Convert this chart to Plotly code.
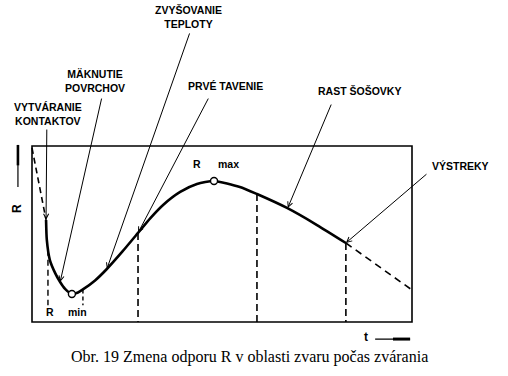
import plotly.graph_objects as go

# ---- data (t and R in box-relative units: box spans 0..100 on both axes) ----
t_dash_start = [0.0, 1.6, 3.2, 3.7]
r_dash_start = [98.9, 80.7, 61.9, 58.0]

t_curve = [3.7, 3.9, 4.7, 6.1, 7.4, 8.7, 10.5, 12.1, 13.4, 16.6, 19.7, 23.7,
           27.9, 31.1, 34.5, 39.0, 43.4, 47.9, 54.7, 59.2, 67.1, 75.0, 82.6]
r_curve = [58.0, 46.6, 35.2, 27.8, 22.7, 18.8, 15.9, 16.8, 18.5, 23.6, 30.1, 39.8,
           50.6, 58.9, 66.5, 73.9, 78.4, 80.1, 76.7, 72.7, 64.8, 55.1, 44.9]

t_dash_end = [82.6, 100.0]
r_dash_end = [44.9, 18.2]

i_min = 6
i_max = 17
i_first_melt = 12      # PRVÉ TAVENIE
i_lens = 19            # start of RAST ŠOŠOVKY
i_spatter = 22         # VÝSTREKY

phase_labels = ["VYTVÁRANIE<br>KONTAKTOV", "MÄKNUTIE<br>POVRCHOV",
                "ZVYŠOVANIE<br>TEPLOTY", "PRVÉ TAVENIE", "RAST ŠOŠOVKY", "VÝSTREKY"]
caption = "Obr. 19 Zmena odporu R v oblasti zvaru počas zvárania"

# ---- figure ----
BLACK = "black"
fig = go.Figure()

# dashed initial part
fig.add_trace(go.Scatter(x=t_dash_start, y=r_dash_start, mode="lines",
                         line=dict(color=BLACK, width=1.6, dash="6px,4px"),
                         hoverinfo="skip"))
# main curve
fig.add_trace(go.Scatter(x=t_curve, y=r_curve, mode="lines",
                         line=dict(color=BLACK, width=2.6, shape="spline", smoothing=0.6),
                         hoverinfo="skip"))
# dashed extrapolation
fig.add_trace(go.Scatter(x=t_dash_end, y=r_dash_end, mode="lines",
                         line=dict(color=BLACK, width=1.6, dash="7px,5px"),
                         hoverinfo="skip"))

# dashed vertical lines from curve to bottom
for i in [i_first_melt, i_lens, i_spatter]:
    fig.add_trace(go.Scatter(x=[t_curve[i], t_curve[i]], y=[r_curve[i], 0], mode="lines",
                             line=dict(color=BLACK, width=1.6, dash="7px,4px"),
                             hoverinfo="skip"))
# R min dashed marks
fig.add_trace(go.Scatter(x=[4.2, 4.2], y=[41, 9.5], mode="lines",
                         line=dict(color=BLACK, width=1.4, dash="6px,4px"), hoverinfo="skip"))
fig.add_trace(go.Scatter(x=[13.4, 13.4], y=[r_curve[8], 9.5], mode="lines",
                         line=dict(color=BLACK, width=1.4, dash="4px,3px"), hoverinfo="skip"))

# min / max open circles
fig.add_trace(go.Scatter(x=[t_curve[i_min], t_curve[i_max]], y=[r_curve[i_min], r_curve[i_max]],
                         mode="markers",
                         marker=dict(size=7, color="white", line=dict(color=BLACK, width=1.4)),
                         hoverinfo="skip"))

# axis arrows
fig.add_trace(go.Scatter(x=[-3.7, -3.7], y=[76.7, 100.6], mode="lines",
                         line=dict(color=BLACK, width=1.2), hoverinfo="skip"))
fig.add_trace(go.Scatter(x=[-3.7, -3.7], y=[89.0, 100.6], mode="lines",
                         line=dict(color=BLACK, width=2.6), hoverinfo="skip"))
fig.add_trace(go.Scatter(x=[90.3, 99.5], y=[-9.7, -9.7], mode="lines",
                         line=dict(color=BLACK, width=1.2), hoverinfo="skip"))
fig.add_trace(go.Scatter(x=[95.0, 99.5], y=[-9.7, -9.7], mode="lines",
                         line=dict(color=BLACK, width=3.0), hoverinfo="skip"))

# box
fig.add_shape(type="rect", x0=0, y0=0, x1=100, y1=100, xref="x", yref="y",
              line=dict(color=BLACK, width=1.6))

# leader lines: (tail t, tail R) -> curve point
leaders = [
    ((3.9, 110.2), (t_curve[0], r_curve[0])),
    ((18.4, 127.8), (t_curve[4], r_curve[4])),
    ((41.6, 164.8), (t_curve[10], r_curve[10])),
    ((46.6, 127.8), (t_curve[i_first_melt], r_curve[i_first_melt])),
    ((78.9, 124.4), (t_curve[20] + 0.2, r_curve[20])),
    ((104.2, 84.7), (t_curve[i_spatter], r_curve[i_spatter])),
]
for (tx, ty), (hx, hy) in leaders:
    fig.add_annotation(x=hx, y=hy, ax=tx, ay=ty, xref="x", yref="y", axref="x", ayref="y",
                       text="", showarrow=True, arrowhead=5, arrowsize=1, arrowwidth=1,
                       arrowcolor=BLACK)

LBL = dict(family="Liberation Sans", size=10.5, color=BLACK, weight="bold")


def px2t(px):
    return (px - 32) / 3.8


def py2r(py):
    return (322 - py) / 1.76


label_pos = [(48, 114), (95, 81), (188, 16.5), (225, 86), (359, 91), (460, 166)]
for txt, (px, py) in zip(phase_labels, label_pos):
    fig.add_annotation(x=px2t(px), y=py2r(py), text=txt, showarrow=False,
                       font=LBL, xref="x", yref="y", align="center")

for txt, (px, py) in [("R", (197, 164)), ("max", (228, 164)), ("R", (50, 312)), ("min", (77, 312))]:
    fig.add_annotation(x=px2t(px), y=py2r(py), text=txt, showarrow=False,
                       font=LBL, xref="x", yref="y")

fig.add_annotation(x=px2t(17), y=py2r(209), text="R", textangle=-90, showarrow=False,
                   font=dict(family="Liberation Sans", size=12, color=BLACK, weight="bold"),
                   xref="x", yref="y")
fig.add_annotation(x=px2t(366), y=py2r(337), text="t", showarrow=False,
                   font=dict(family="Liberation Sans", size=12, color=BLACK, weight="bold"),
                   xref="x", yref="y")
fig.add_annotation(x=px2t(249), y=py2r(357), text=caption, showarrow=False,
                   font=dict(family="Liberation Serif", size=16, color=BLACK),
                   xref="x", yref="y")

fig.update_layout(
    width=508, height=376, margin=dict(l=0, r=0, t=0, b=0),
    paper_bgcolor="white", plot_bgcolor="white", showlegend=False,
    xaxis=dict(range=[px2t(0), px2t(508)], visible=False, fixedrange=True),
    yaxis=dict(range=[py2r(376), py2r(0)], visible=False, fixedrange=True),
)

fig.write_html("out.html")
